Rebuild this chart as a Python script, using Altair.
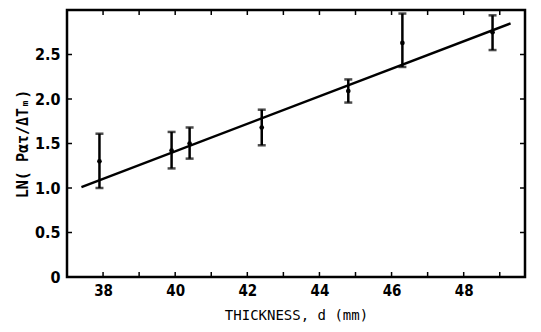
import altair as alt
import pandas as pd

# measured data (thickness d as labelled, LN values)
thickness = [37.9, 39.9, 40.4, 42.4, 44.8, 46.3, 48.8]
ln_mean = [1.30, 1.42, 1.50, 1.68, 2.09, 2.63, 2.75]
ln_upper = [1.61, 1.63, 1.68, 1.88, 2.22, 2.96, 2.94]
ln_lower = [1.00, 1.22, 1.33, 1.48, 1.96, 2.36, 2.55]

# fitted straight line end points
fit_x = [37.4, 49.3]
fit_y = [1.01, 2.85]

# axis ticks
x_label_values = [38, 40, 42, 44, 46, 48]
x_minor_ticks = [38, 39, 40, 41, 42, 43, 44, 45, 46, 47, 48, 49]
y_label_values = [0, 0.5, 1.0, 1.5, 2.0, 2.5]
y_minor_ticks = [0.5, 1.0, 1.5, 2.0, 2.5]

W, H = 458, 267
FONT = "Liberation Sans Narrow, DejaVu Sans Condensed, Liberation Sans"

pts = pd.DataFrame({"d": thickness, "m": ln_mean, "hi": ln_upper, "lo": ln_lower})
fit = pd.DataFrame({"d": fit_x, "v": fit_y})
xt = pd.DataFrame({"d": x_minor_ticks})
yt = pd.DataFrame({"v": y_minor_ticks})

xscale = alt.Scale(domain=[37.0, 49.7], nice=False, zero=False)
yscale = alt.Scale(domain=[0, 3.0], nice=False, zero=False)

xaxis = alt.Axis(values=x_label_values, ticks=False, grid=False, domain=False,
                 labelFont=FONT, labelFontWeight="bold", labelFontSize=15,
                 labelPadding=6, labelColor="black",
                 title="THICKNESS, d (mm)", titleFont="DejaVu Sans Mono",
                 titleFontSize=14, titleFontWeight="normal", titleColor="black",
                 titlePadding=10)
yaxis = alt.Axis(values=y_label_values, ticks=False, grid=False, domain=False,
                 labelExpr="datum.value == 0 ? '0' : format(datum.value, '.1f')",
                 labelFont=FONT, labelFontWeight="bold", labelFontSize=16,
                 labelPadding=7, labelColor="black",
                 title="LN( Pατ/ΔTₘ)", titleFont="DejaVu Sans Mono",
                 titleFontSize=15, titleFontWeight="bold", titleColor="black",
                 titlePadding=4)

line = alt.Chart(fit).mark_line(color="black", strokeWidth=2.5).encode(
    x=alt.X("d:Q", scale=xscale, axis=xaxis),
    y=alt.Y("v:Q", scale=yscale, axis=yaxis),
)

bars = alt.Chart(pts).mark_rule(color="black", strokeWidth=2.5).encode(
    x="d:Q", y="lo:Q", y2="hi:Q")
cap_hi = alt.Chart(pts).mark_tick(color="black", size=8, thickness=2.5, orient="horizontal").encode(
    x="d:Q", y="hi:Q")
cap_lo = alt.Chart(pts).mark_tick(color="black", size=8, thickness=2.5, orient="horizontal").encode(
    x="d:Q", y="lo:Q")
dots = alt.Chart(pts).mark_point(color="black", filled=True, size=22, opacity=1).encode(
    x="d:Q", y="m:Q")

bt = alt.Chart(xt).mark_rule(color="black", strokeWidth=1.5).encode(
    x="d:Q", y=alt.value(H), y2=alt.value(H - 5))
tt = alt.Chart(xt).mark_rule(color="black", strokeWidth=1.5).encode(
    x="d:Q", y=alt.value(0), y2=alt.value(5))
lt = alt.Chart(yt).mark_rule(color="black", strokeWidth=1.5).encode(
    y="v:Q", x=alt.value(0), x2=alt.value(5))
rt = alt.Chart(yt).mark_rule(color="black", strokeWidth=1.5).encode(
    y="v:Q", x=alt.value(W), x2=alt.value(W - 5))

chart = alt.layer(line, bars, cap_hi, cap_lo, dots, bt, tt, lt, rt).properties(
    width=W, height=H,
    background="white",
    autosize=alt.AutoSizeParams(type="none"),
    padding={"left": 59, "top": 2, "right": 8, "bottom": 46},
).configure_view(stroke="black", strokeWidth=2.5)

chart.save("out.html", embed_options={"renderer": "svg", "actions": False})
